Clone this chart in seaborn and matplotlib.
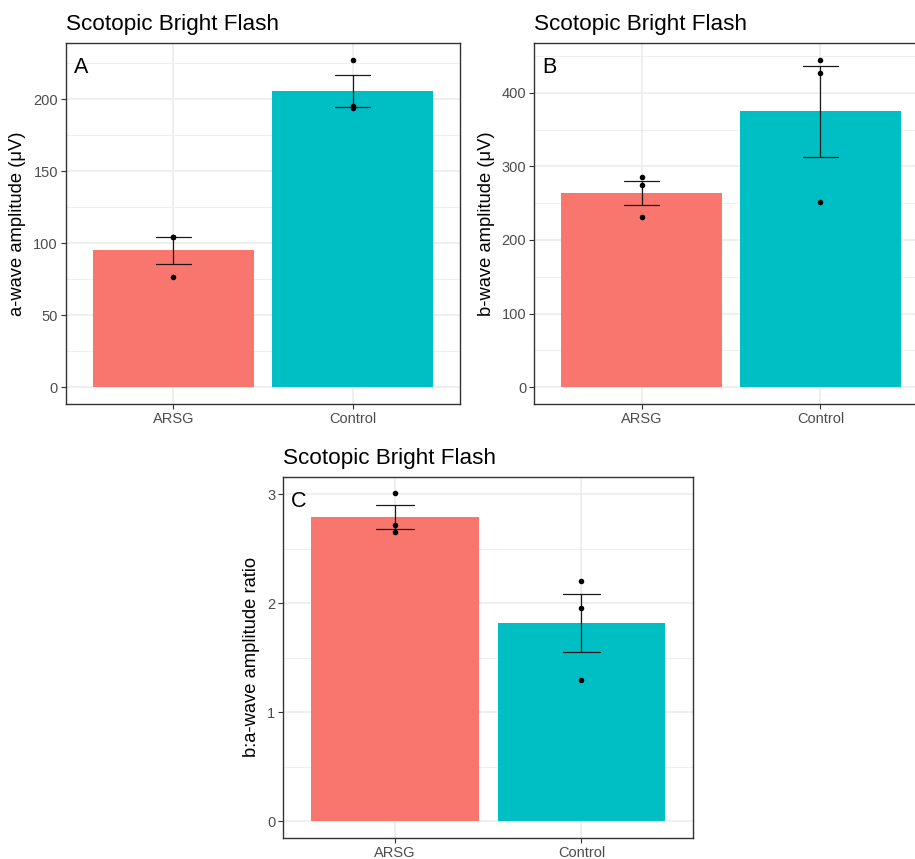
import numpy as np
import pandas as pd
import matplotlib
matplotlib.use("Agg")
import matplotlib.pyplot as plt
import seaborn as sns
from matplotlib.ticker import MultipleLocator

# Scotopic bright-flash ERG amplitudes, three animals per group
groups = ["ARSG", "Control"]
a_wave_arsg = [104.5, 104.0, 76.4]
a_wave_control = [227.3, 195.0, 194.0]
b_wave_arsg = [285.8, 275.0, 230.6]
b_wave_control = [444.8, 427.2, 251.9]
ratio_arsg = [3.01, 2.72, 2.65]
ratio_control = [2.20, 1.96, 1.30]

palette = {"ARSG": "#F8766D", "Control": "#00BFC4"}

sns.set_style("white")
plt.rcParams["font.family"] = ["Liberation Sans", "DejaVu Sans"]

W, H = 915, 859
fig = plt.figure(figsize=(W / 100, H / 100), dpi=100)


def px_axes(left, top, right, bottom):
    return fig.add_axes([left / W, 1 - bottom / H, (right - left) / W, (bottom - top) / H])


def panel(ax, arsg, control, ylabel, letter, major, minor):
    df = pd.DataFrame({
        "group": ["ARSG"] * len(arsg) + ["Control"] * len(control),
        "value": list(arsg) + list(control),
    })
    sns.barplot(data=df, x="group", y="value", hue="group", order=groups,
                hue_order=groups, palette=palette, saturation=1,
                errorbar="se", capsize=0.2, width=0.9, linewidth=0,
                legend=False, err_kws={"color": "#1a1a1a", "linewidth": 0.9},
                ax=ax)
    sns.stripplot(data=df, x="group", y="value", order=groups, color="black",
                  jitter=False, size=4, linewidth=0, zorder=4, ax=ax)

    # ggplot-style 5% expansion around the data range (bars start at zero)
    stats = df.groupby("group")["value"].agg(["mean", "sem"])
    hi = max(df["value"].max(), (stats["mean"] + stats["sem"]).max())
    lo = 0.0
    span = hi - lo
    ax.set_ylim(lo - 0.05 * span, hi + 0.05 * span)
    ax.set_xlim(-0.6, 1.6)

    ax.yaxis.set_major_locator(MultipleLocator(major))
    ax.yaxis.set_minor_locator(MultipleLocator(minor))
    ax.set_axisbelow(True)
    ax.grid(which="major", axis="both", color="#EBEBEB", linewidth=1.1)
    ax.grid(which="minor", axis="y", color="#EBEBEB", linewidth=0.55)

    ax.tick_params(which="major", bottom=True, left=True, length=3.3, width=0.8,
                   color="#333333", labelcolor="#4D4D4D", labelsize=10.5, pad=2.5)
    ax.tick_params(which="minor", length=0)
    for sp in ax.spines.values():
        sp.set_visible(True)
        sp.set_color("#333333")
        sp.set_linewidth(1.0)

    ax.set_xlabel("")
    ax.set_ylabel(ylabel, fontsize=13.2, color="black", labelpad=5)
    ax.set_title("Scotopic Bright Flash", loc="left", fontsize=16.2, pad=9.4,
                 color="black")
    ax.annotate(letter, xy=(0, 1), xycoords="axes fraction", xytext=(5.5, -10),
                textcoords="offset points", ha="left", va="top", fontsize=15.5,
                color="black")


ax_a = px_axes(66, 43.3, 460, 403.7)
ax_b = px_axes(534.3, 43.3, 927.7, 403.7)
ax_c = px_axes(283.3, 476.7, 693.3, 837.7)

panel(ax_a, a_wave_arsg, a_wave_control, "a-wave amplitude (μV)", "A", 50, 25)
panel(ax_b, b_wave_arsg, b_wave_control, "b-wave amplitude (μV)", "B", 100, 50)
panel(ax_c, ratio_arsg, ratio_control, "b:a-wave amplitude ratio", "C", 1, 0.5)

fig.savefig("out.png", dpi=100)
